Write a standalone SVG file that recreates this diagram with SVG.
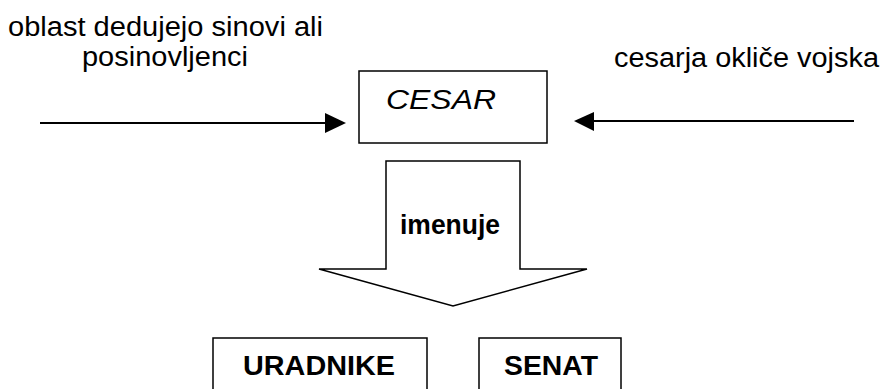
<svg xmlns="http://www.w3.org/2000/svg" width="882" height="389" viewBox="0 0 882 389">
<style>
.lbl{font-family:"Liberation Sans",Arial,sans-serif;font-size:27px;fill:#000}
.box{fill:#fff;stroke:#000;stroke-width:1.5}
.b{font-weight:bold}
.ln{stroke:#000;stroke-width:2;fill:none}
</style>
<rect width="882" height="389" fill="#fff"/>
<g id="label-left">
<text class="lbl" x="8" y="36" textLength="315" lengthAdjust="spacingAndGlyphs">oblast dedujejo sinovi ali</text>
<text class="lbl" x="82" y="66" textLength="166" lengthAdjust="spacingAndGlyphs">posinovljenci</text>
</g>
<g id="label-right">
<text class="lbl" x="614" y="67" textLength="265" lengthAdjust="spacingAndGlyphs">cesarja okliče vojska</text>
</g>
<g id="cesar">
<rect class="box" x="359" y="71" width="188" height="72"/>
<text class="lbl" x="386" y="109" font-style="italic" textLength="110" lengthAdjust="spacingAndGlyphs">CESAR</text>
</g>
<g id="connectors">
<line class="ln" x1="40" y1="123" x2="327" y2="123"/>
<polygon points="325,113 346,123 325,133" fill="#000"/>
<line class="ln" x1="854" y1="121" x2="593" y2="121"/>
<polygon points="594,112 574,121 594,131" fill="#000"/>
</g>
<g id="imenuje">
<polygon class="box" points="386,161 520,161 520,269 587,269 453,306 319,269 386,269"/>
<text class="lbl b" x="400" y="234" font-size="25" textLength="100" lengthAdjust="spacingAndGlyphs">imenuje</text>
</g>
<g id="uradnike">
<rect class="box" x="213" y="338" width="214" height="60"/>
<text class="lbl b" x="243" y="375" font-size="28" textLength="152" lengthAdjust="spacingAndGlyphs">URADNIKE</text>
</g>
<g id="senat">
<rect class="box" x="479" y="338" width="142" height="60"/>
<text class="lbl b" x="504" y="375" font-size="28" textLength="94" lengthAdjust="spacingAndGlyphs">SENAT</text>
</g>
</svg>
